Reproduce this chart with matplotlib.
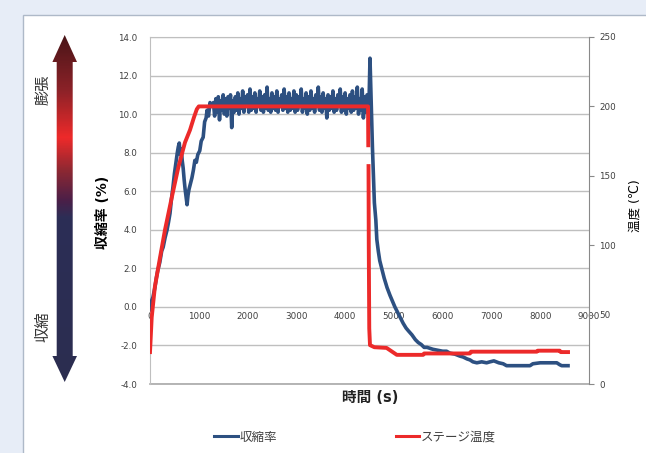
import numpy as np
import matplotlib.pyplot as plt
from matplotlib.colors import LinearSegmentedColormap
from matplotlib.patches import Rectangle, Polygon
from matplotlib.lines import Line2D
from matplotlib.ticker import FormatStrFormatter

plt.rcParams['font.family'] = ['DejaVu Sans', 'Noto Sans CJK JP']

# 収縮率 (%)
t_ramp = [0, 30, 60, 100, 130, 160, 200, 240, 270, 310, 350, 380, 410, 440, 470,
          500, 530, 560, 580, 600, 620, 640, 660, 680, 700, 720, 740, 760, 780,
          800, 830, 860, 890, 920, 950, 980, 1020, 1050, 1090, 1120, 1150, 1170,
          1200, 1230, 1260]
s_ramp = [-0.15, 0.3, 0.5, 1.0, 1.5, 1.9, 2.3, 2.9, 3.1, 3.6, 4.0, 4.4, 4.85, 5.6, 6.2,
          6.9, 7.45, 8.0, 8.3, 8.5, 7.9, 8.2, 7.6, 7.2, 6.6, 6.1, 5.7, 5.3, 5.8,
          6.1, 6.4, 6.7, 7.1, 7.6, 7.5, 7.9, 8.1, 8.6, 8.8, 9.6, 9.8, 10.2,
          9.9, 10.6, 10.4]

t_plateau = list(range(1300, 4476, 25))
s_plateau = [10.6, 9.9, 10.8, 10.1, 10.9, 9.7, 10.7, 10.2, 11.0, 10.0, 10.8, 9.9, 10.9, 10.3, 11.0, 9.3,
             10.7, 10.1, 10.9, 10.2, 11.1, 10.0, 10.8, 10.3, 11.2, 10.1, 10.9, 10.4, 11.0, 10.1, 11.3, 10.2,
             10.9, 10.3, 11.1, 10.1, 10.8, 10.4, 11.2, 10.2, 10.9, 10.1, 11.0, 10.3, 11.4, 10.2, 10.8, 10.1,
             11.1, 10.3, 10.9, 10.2, 11.2, 10.1, 10.8, 10.4, 11.0, 10.2, 11.3, 10.3, 10.9, 10.1, 11.1, 10.2,
             10.8, 10.3, 11.2, 10.1, 11.0, 10.2, 10.9, 10.4, 11.3, 10.1, 10.8, 10.3, 11.1, 10.0, 10.9, 10.2,
             11.2, 10.3, 10.8, 10.1, 11.0, 10.4, 11.4, 10.2, 10.9, 10.1, 11.1, 10.3, 10.8, 9.8, 11.0, 10.2,
             10.9, 10.3, 11.2, 10.1, 10.8, 10.2, 11.0, 10.4, 11.3, 10.1, 10.9, 10.2, 11.1, 10.0, 10.8, 10.3,
             11.0, 10.1, 11.2, 10.2, 10.9, 10.3, 11.4, 10.0, 10.8, 10.2, 11.3, 9.8, 10.9, 10.1, 11.0, 10.2]

t_cool = [4490, 4510, 4530, 4560, 4600, 4630, 4650, 4680, 4710, 4760, 4800, 4860,
          4920, 4970, 5020, 5080, 5130, 5190, 5250, 5300, 5370, 5440, 5500, 5560,
          5620, 5680, 5740, 5800, 5900, 6000, 6080, 6150, 6250, 6350, 6420, 6500,
          6560, 6620, 6700, 6800, 6900, 6970, 7050, 7150, 7240, 7310, 7450, 7600,
          7790, 7850, 8000, 8150, 8340, 8400, 8440, 8570]
s_cool = [10.6, 12.9, 11.0, 8.3, 5.4, 4.5, 3.5, 2.9, 2.4, 1.9, 1.5, 1.0,
          0.6, 0.3, 0.0, -0.3, -0.55, -0.85, -1.1, -1.25, -1.45, -1.7, -1.85, -1.95,
          -2.1, -2.1, -2.15, -2.2, -2.25, -2.3, -2.3, -2.4, -2.45, -2.55, -2.6, -2.7,
          -2.75, -2.85, -2.9, -2.85, -2.9, -2.85, -2.8, -2.9, -2.95, -3.05, -3.05, -3.05,
          -3.05, -2.95, -2.9, -2.9, -2.9, -3.0, -3.05, -3.05]

t_shrink = t_ramp + t_plateau + t_cool
shrink = s_ramp + s_plateau + s_cool

# ステージ温度 (℃)
t_temp = [0, 35, 100, 205, 307, 450, 580, 717, 820, 900, 960, 1000, 4470, 4475,
          4478, 4480, 4485, 4495, 4510, 4600, 4850, 5060, 5600, 5620, 6560, 6580,
          7930, 7950, 8400, 8420, 8570]
temp = [23, 48, 70, 91, 111, 135, 156, 174, 183, 192, 198, 200, 200, 172,
        np.nan, 157, 100, 40, 28, 26.5, 26, 21, 21, 22, 22, 23.3,
        23.3, 24, 24, 23, 23]

x_ticks = [0, 1000, 2000, 3000, 4000, 5000, 6000, 7000, 8000, 9000]
y_ticks = [-4, -2, 0, 2, 4, 6, 8, 10, 12, 14]
y2_ticks = [0, 50, 100, 150, 200, 250]

blue = '#2D5081'
red = '#EC2A2A'
grid_c = '#BFBFBF'
txt_c = '#404040'

W, H = 646, 453
fig = plt.figure(figsize=(W / 100, H / 100), dpi=100)
fig.patch.set_facecolor('#E7EDF7')

# background panel + gradient arrow, drawn in pixel coordinates
bg = fig.add_axes([0, 0, 1, 1], zorder=-1)
bg.set_xlim(0, W)
bg.set_ylim(H, 0)
bg.axis('off')
bg.add_patch(Rectangle((23, 15), 640, 450, facecolor='white', edgecolor='#AEB9C8',
                       lw=1, zorder=0))

arrow_pts = [(64.7, 35), (77, 62), (72.7, 62), (72.7, 356), (77, 356), (64.7, 382),
             (52.4, 356), (56.7, 356), (56.7, 62), (52.4, 62)]
arrow = Polygon(arrow_pts, closed=True, facecolor='none', edgecolor='none')
bg.add_patch(arrow)
cmap = LinearSegmentedColormap.from_list('arr', [
    (0.0, '#4A1518'), (0.158, '#8C2228'), (0.294, '#EE2A2A'), (0.389, '#8E2832'),
    (0.476, '#4B1F48'), (0.527, '#2C2E56'), (1.0, '#2B2D50')])
grad = np.linspace(0, 1, 400).reshape(-1, 1)
im = bg.imshow(grad, cmap=cmap, aspect='auto', origin='upper',
               extent=(50, 80, 382, 35), interpolation='bilinear', zorder=2)
im.set_clip_path(arrow)
bg.set_xlim(0, W)
bg.set_ylim(H, 0)

bg.text(42.5, 90, '膨張', rotation=90, ha='center', va='center', fontsize=11, color='#333333')
bg.text(42.5, 327, '収縮', rotation=90, ha='center', va='center', fontsize=11, color='#333333')

# main chart
ax = fig.add_axes([150 / W, 1 - 384 / H, 439 / W, 347 / H])
ax.set_facecolor('white')
ax.plot(t_shrink, shrink, color=blue, lw=2.6, solid_joinstyle='round', zorder=3)
ax.set_xlim(0, 9000)
ax.set_ylim(-4, 14)
ax.set_yticks(y_ticks)
ax.set_xticks(x_ticks)
ax.yaxis.set_major_formatter(FormatStrFormatter('%.1f'))
ax.grid(axis='y', color=grid_c, lw=1)
ax.spines['bottom'].set_position(('data', 0))
ax.spines['bottom'].set_visible(False)
ax.spines['right'].set_visible(False)
ax.spines['top'].set_color(grid_c)
ax.spines['left'].set_color(grid_c)
ax.axhline(-4, color='#A8A8A8', lw=1.2, clip_on=False, zorder=2)
ax.tick_params(axis='x', length=0, pad=3.5, labelsize=6.3, labelcolor=txt_c)
ax.tick_params(axis='y', length=0, pad=9, labelsize=6.3, labelcolor=txt_c)

ax2 = ax.twinx()
ax2.plot(t_temp, temp, color=red, lw=2.8, solid_joinstyle='round')
ax2.set_ylim(0, 250)
ax2.set_yticks(y2_ticks)
for s in ['left', 'top', 'bottom']:
    ax2.spines[s].set_visible(False)
ax2.spines['right'].set_color('#898989')
ax2.tick_params(axis='y', direction='out', length=3.5, color='#898989', pad=4,
                labelsize=6.3, labelcolor=txt_c)

fig.text(103 / W, 1 - 212 / H, '収縮率 (%)', rotation=90, ha='center', va='center',
         fontsize=10, fontweight='bold', color='black')
fig.text(635 / W, 1 - 206 / H, '温度 (℃)', rotation=90, ha='center', va='center',
         fontsize=9, color='black')
fig.text(370 / W, 1 - 397 / H, '時間 (s)', ha='center', va='center',
         fontsize=10.5, fontweight='bold', color='#222222')

handles = [Line2D([], [], color=blue, lw=2.2), Line2D([], [], color=red, lw=2.2)]
leg = ax.legend(handles, ['収縮率', 'ステージ温度'], loc='center',
                bbox_to_anchor=(355 / W, 1 - 437 / H), bbox_transform=fig.transFigure,
                ncol=2, frameon=False, fontsize=9, handlelength=1.85,
                handletextpad=0.15, columnspacing=9.5)
for t in leg.get_texts():
    t.set_color(txt_c)

fig.savefig('out.png', dpi=100)
